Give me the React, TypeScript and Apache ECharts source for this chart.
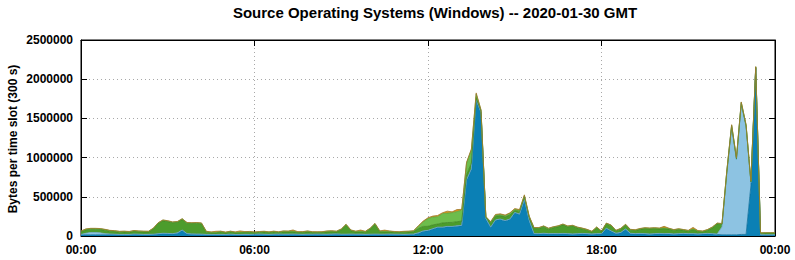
import React, { useEffect, useRef } from "react";
import * as echarts from "echarts";

// Bytes per 300 s slot, read every 10 minutes, in thousands of bytes.
// One row per hour (6 readings), plus the value at 24:00.
const darkBlueK = [
  15, 15, 15, 15, 15, 15,
  18, 18, 15, 15, 15, 20,
  18, 15, 15, 18, 25, 30,
  28, 25, 35, 70, 25, 22,
  20, 20, 15, 15, 15, 15,
  15, 18, 15, 15, 15, 15,
  18, 20, 18, 16, 18, 20,
  18, 18, 20, 18, 16, 18,
  18, 20, 18, 18, 20, 22,
  18, 18, 20, 18, 18, 16,
  18, 20, 18, 18, 20, 18,
  18, 16, 18, 20, 35, 60,
  67, 88, 108, 108, 117, 117,
  125, 130, 712, 850, 1730, 1570,
  220, 108, 200, 212, 192, 212,
  296, 275, 462, 192, 25, 25,
  30, 25, 25, 25, 28, 25,
  22, 25, 28, 25, 22, 25,
  25, 95, 60, 30, 40, 85,
  30, 25, 28, 25, 22, 25,
  28, 25, 25, 22, 25, 28,
  25, 25, 22, 25, 28, 25,
  20, 15, 15, 15, 15, 20,
  20, 640, 2140, 12, 12, 12,
  12,
];

const lightBlueK = [
  5, 20, 30, 30, 25, 15,
  8, 5, 5, 5, 5, 5,
  5, 5, 6, 5, 4, 5,
  5, 5, 5, 6, 5, 5,
  5, 4, 5, 5, 5, 5,
  5, 5, 5, 5, 6, 5,
  5, 5, 4, 5, 5, 5,
  5, 6, 5, 5, 5, 5,
  5, 5, 5, 4, 5, 5,
  5, 5, 5, 5, 6, 5,
  5, 4, 5, 5, 5, 5,
  5, 5, 5, 5, 5, 5,
  5, 5, 5, 5, 5, 5,
  5, 5, 5, 5, 5, 5,
  5, 5, 5, 5, 5, 5,
  5, 5, 5, 5, 5, 5,
  5, 5, 6, 5, 5, 5,
  5, 4, 5, 5, 5, 5,
  5, 5, 5, 6, 5, 5,
  5, 5, 5, 5, 4, 5,
  5, 5, 6, 5, 5, 5,
  5, 5, 5, 5, 5, 5,
  5, 100, 770, 1370, 955, 1660,
  1370, 40, 5, 3, 3, 3,
  3,
];

const darkGreenK = [
  33, 44, 42, 42, 44, 44,
  35, 34, 29, 31, 27, 34,
  31, 31, 29, 66, 129, 159,
  151, 139, 134, 134, 131, 132,
  136, 132, 29, 21, 20, 31,
  19, 28, 21, 22, 24, 27,
  18, 21, 28, 21, 28, 18,
  31, 28, 29, 21, 24, 31,
  21, 18, 21, 31, 31, 24,
  56, 116, 41, 28, 29, 28,
  66, 126, 31, 29, 28, 24,
  21, 28, 28, 31, 55, 57,
  51, 49, 39, 53, 50, 51,
  52, 55, 63, 75, 30, 20,
  15, 50, 47, 43, 47, 51,
  24, 34, 33, 40, 65, 65,
  81, 57, 74, 87, 109, 87,
  99, 74, 57, 44, 23, 74,
  23, 54, 64, 26, 42, 49,
  39, 39, 52, 65, 65, 65,
  57, 65, 57, 44, 52, 39,
  31, 52, 31, 23, 39, 74,
  129, 34, 32, 20, 15, 15,
  15, 12, 8, 20, 22, 22,
  22,
];

const lightGreenK = [
  8, 8, 8, 8, 8, 8,
  8, 8, 8, 8, 8, 8,
  8, 8, 8, 8, 8, 8,
  8, 8, 8, 8, 8, 8,
  8, 8, 8, 8, 8, 8,
  8, 8, 8, 8, 8, 8,
  8, 8, 8, 8, 8, 8,
  8, 8, 8, 8, 8, 8,
  8, 8, 8, 8, 8, 8,
  8, 8, 8, 8, 8, 8,
  8, 8, 8, 8, 8, 8,
  8, 8, 8, 8, 30, 60,
  100, 100, 95, 120, 120, 125,
  130, 140, 150, 170, 45, 10,
  5, 15, 15, 15, 15, 20,
  15, 15, 15, 12, 10, 10,
  10, 10, 10, 10, 8, 8,
  8, 8, 8, 8, 8, 8,
  8, 8, 8, 8, 8, 8,
  8, 8, 8, 8, 8, 8,
  8, 8, 8, 8, 8, 8,
  8, 8, 8, 8, 8, 8,
  8, 8, 8, 10, 10, 10,
  10, 5, 5, 3, 3, 3,
  3,
];

const orangeK = [
  3, 3, 3, 3, 3, 3,
  3, 3, 3, 3, 3, 3,
  3, 3, 3, 3, 3, 3,
  3, 3, 3, 3, 3, 3,
  3, 3, 3, 3, 12, 3,
  3, 3, 3, 15, 3, 3,
  3, 3, 3, 3, 3, 3,
  3, 3, 15, 3, 3, 3,
  3, 3, 3, 3, 3, 3,
  3, 3, 3, 3, 15, 3,
  3, 3, 3, 15, 3, 3,
  3, 3, 3, 3, 5, 8,
  10, 12, 15, 10, 25, 10,
  25, 10, 10, 10, 15, 5,
  5, 5, 8, 8, 8, 8,
  10, 8, 10, 5, 3, 3,
  3, 3, 3, 3, 3, 3,
  3, 3, 3, 3, 3, 3,
  3, 3, 3, 3, 3, 3,
  3, 3, 3, 3, 3, 3,
  3, 20, 3, 3, 3, 3,
  3, 20, 3, 3, 3, 3,
  3, 3, 5, 5, 5, 5,
  5, 3, 2, 2, 2, 2,
  2,
];

const xTickLabels = ["00:00", "06:00", "12:00", "18:00", "00:00"];
const yTicks = [0, 500000, 1000000, 1500000, 2000000, 2500000];
const TITLE = "Source Operating Systems (Windows) -- 2020-01-30 GMT";
const Y_NAME = "Bytes per time slot (300 s)";
const SLOTS_PER_TICK = 36; // 6 hours of 10-minute readings
const KB = 1000;

const FONT = "'Liberation Sans', Arial, Helvetica, sans-serif";

const seriesDefs = [
  { name: "s1", values: darkBlueK, fill: "#0b80b5", line: "#0a6d9b" },
  { name: "s2", values: lightBlueK, fill: "#8dc3e2", line: "#72aacd" },
  { name: "s3", values: darkGreenK, fill: "#4c9c2c", line: "#3c8520" },
  { name: "s4", values: lightGreenK, fill: "#6dbd4c", line: "#57a33a" },
  { name: "s5", values: orangeK, fill: "#e59419", line: "#a07a2c" },
];

// category slots: 0, 1, ..., 144 (10-minute readings)
const slots = darkBlueK.map((_, i) => String(i));

export default function App() {
  const ref = useRef<HTMLDivElement>(null);
  useEffect(() => {
    if (!ref.current) return;
    const chart = echarts.init(ref.current, null, { renderer: "svg" });
    const onTick = (idx: number) => idx % SLOTS_PER_TICK === 0;
    const xCommon = {
      type: "category" as const,
      data: slots,
      boundaryGap: false,
      axisLine: { show: true, onZero: false, lineStyle: { color: "#000", width: 1 } },
      axisTick: {
        show: true,
        inside: true,
        length: 6,
        interval: onTick,
        lineStyle: { color: "#000" },
      },
    };
    const yCommon = {
      type: "value" as const,
      min: yTicks[0],
      max: yTicks[yTicks.length - 1],
      interval: 500000,
      axisLine: { show: true, lineStyle: { color: "#000", width: 1 } },
      axisTick: { show: true, inside: true, length: 6, lineStyle: { color: "#000" } },
    };
    const labelStyle = {
      color: "#000",
      fontWeight: "bold" as const,
      fontSize: 12,
      fontFamily: FONT,
      margin: 8,
    };
    const gridLine = { color: "#a8a8a8", type: [1, 3], width: 1 };
    chart.setOption({
      animation: false,
      backgroundColor: "#fff",
      grid: {
        left: 81,
        right: 20,
        top: 40,
        bottom: 24,
        show: true,
        borderColor: "#000",
        borderWidth: 1,
        backgroundColor: "transparent",
      },
      graphic: [
        {
          type: "text",
          x: 435,
          y: 12,
          style: {
            text: TITLE,
            font: `bold 15px ${FONT}`,
            fill: "#000",
            textAlign: "center",
            textVerticalAlign: "middle",
          },
        },
        {
          type: "text",
          x: 13,
          y: 139,
          rotation: Math.PI / 2,
          style: {
            text: Y_NAME,
            font: `bold 12px ${FONT}`,
            fill: "#000",
            textAlign: "center",
            textVerticalAlign: "middle",
          },
        },
      ],
      xAxis: [
        {
          ...xCommon,
          position: "bottom",
          axisLabel: {
            ...labelStyle,
            interval: onTick,
            formatter: (_v: string, idx: number) =>
              xTickLabels[Math.round(idx / SLOTS_PER_TICK)] ?? "",
          },
          splitLine: { show: true, interval: onTick, lineStyle: gridLine },
        },
        {
          ...xCommon,
          position: "top",
          axisLabel: { show: false },
          splitLine: { show: false },
        },
      ],
      yAxis: [
        {
          ...yCommon,
          position: "left",
          axisLabel: { ...labelStyle, formatter: (v: number) => String(v) },
          splitLine: { show: true, lineStyle: gridLine },
        },
        {
          ...yCommon,
          position: "right",
          axisLabel: { show: false },
          splitLine: { show: false },
        },
      ],
      series: seriesDefs.map((s) => ({
        name: s.name,
        type: "line",
        stack: "total",
        xAxisIndex: 0,
        yAxisIndex: 0,
        showSymbol: false,
        symbol: "none",
        smooth: false,
        lineStyle: { color: s.line, width: 0.8 },
        areaStyle: { color: s.fill, opacity: 1 },
        itemStyle: { color: s.fill },
        data: s.values.map((v) => v * KB),
      })),
    });
    return () => chart.dispose();
  }, []);
  return (
    <div
      ref={ref}
      style={{ position: "fixed", left: 0, top: 0, width: 795, height: 260, background: "#fff" }}
    />
  );
}
